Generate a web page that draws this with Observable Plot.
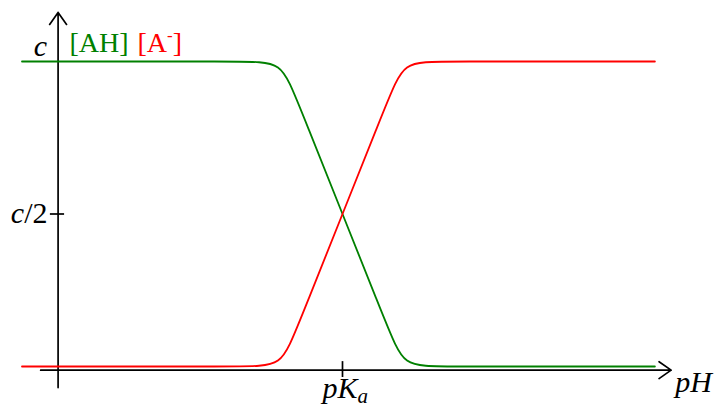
<!DOCTYPE html>
<html>
<head>
<meta charset="utf-8">
<script src="https://cdn.jsdelivr.net/npm/d3@7"></script>
<script src="https://cdn.jsdelivr.net/npm/@observablehq/plot@0.6"></script>
<style>
  html, body { margin: 0; padding: 0; background: #fff; }
</style>
</head>
<body>
<div id="chart"></div>
<script>
// pH control points (pKa = 7) and fractions of total concentration c
const pH      = [-0.9, 4.6, 5.5, 5.85, 8.15, 8.5, 9.4, 14.7];
const fracAH  = [1, 1, 1, 0.883, 0.117, 0, 0, 0];
const fracA   = [0, 0, 0, 0.117, 0.883, 1, 1, 1];
const pKa = 7;
const yTicks = [0.5];
const seriesNames = ["[AH]", "[A-]"];
const seriesColors = ["#008000", "#ff0000"];

const ahData = pH.map((p, i) => ({pH: p, f: fracAH[i]}));
const aData  = pH.map((p, i) => ({pH: p, f: fracA[i]}));

const font = "Liberation Serif";
const txt = (extra) => Object.assign({text: d => d, fontFamily: font, fontSize: 30, lineAnchor: "bottom"}, extra);

const chart = Plot.plot({
  width: 715,
  height: 408,
  marginLeft: 58,
  marginRight: 89,
  marginTop: 61,
  marginBottom: 42,
  x: {domain: [0, 14], axis: null},
  y: {domain: [0, 1], axis: null},
  style: {fontFamily: font, fontSize: "30px", background: "white", overflow: "visible"},
  marks: [
    // axes with open arrowheads
    Plot.arrow([{x1: -0.44, y1: -0.012, x2: 15.1, y2: -0.012}], {
      x1: "x1", y1: "y1", x2: "x2", y2: "y2",
      stroke: "black", strokeWidth: 1.7, headLength: 13, headAngle: 70
    }),
    Plot.arrow([{x1: -0.01, y1: -0.069, x2: -0.01, y2: 1.161}], {
      x1: "x1", y1: "y1", x2: "x2", y2: "y2",
      stroke: "black", strokeWidth: 1.7, headLength: 13, headAngle: 70
    }),
    // ticks
    Plot.ruleY(yTicks, {y: d => d, x1: -0.2, x2: 0.15, stroke: "black", strokeWidth: 1.7}),
    Plot.ruleX([pKa], {x: d => d, y1: -0.036, y2: 0.016, stroke: "black", strokeWidth: 1.7}),
    // curves
    Plot.line(ahData, {x: "pH", y: "f", stroke: seriesColors[0], strokeWidth: 1.8, curve: "basis"}),
    Plot.line(aData,  {x: "pH", y: "f", stroke: seriesColors[1], strokeWidth: 1.8, curve: "basis"}),
    // labels
    Plot.text(["c"], txt({x: 0, y: 1, dx: -18, dy: -6, textAnchor: "middle", fill: "black"})),
    Plot.text(["c/2"], txt({x: 0, y: 0.5, dx: -11, dy: 9, textAnchor: "end", fill: "black"})),
    Plot.text([seriesNames[0]], txt({x: 0, y: 1, dx: 11, dy: -10, fontSize: 28, textAnchor: "start", fill: seriesColors[0]})),
    Plot.text([seriesNames[1]], txt({x: 0, y: 1, dx: 79, dy: -10, fontSize: 28, textAnchor: "start", fill: seriesColors[1]})),
    Plot.text(["pKa"], txt({x: pKa, y: 0, dx: -20, dy: 31, textAnchor: "start", fill: "black"})),
    Plot.text(["pH"], txt({x: 15.1, y: 0, dx: 4, dy: 25, textAnchor: "start", fill: "black"}))
  ]
});

// Rich text formatting (italics, sub/superscripts)
d3.select(chart).selectAll("text").each(function() {
  const t = this.textContent;
  const sel = d3.select(this);
  if (t === "c") {
    sel.attr("font-style", "italic");
  } else if (t === "c/2") {
    sel.text(null);
    sel.append("tspan").attr("font-style", "italic").text("c");
    sel.append("tspan").text("/2");
  } else if (t === "[A-]") {
    sel.text(null);
    sel.append("tspan").text("[A");
    sel.append("tspan").attr("dy", "-11").attr("font-size", "17px").text("-");
    sel.append("tspan").attr("dy", "11").text("]");
  } else if (t === "pKa") {
    sel.text(null);
    sel.append("tspan").attr("font-style", "italic").text("pK");
    sel.append("tspan").attr("font-style", "italic").attr("font-size", "21px").attr("dy", "5").text("a");
  } else if (t === "pH") {
    sel.attr("font-style", "italic");
  }
});

document.getElementById("chart").appendChild(chart);
</script>
</body>
</html>
